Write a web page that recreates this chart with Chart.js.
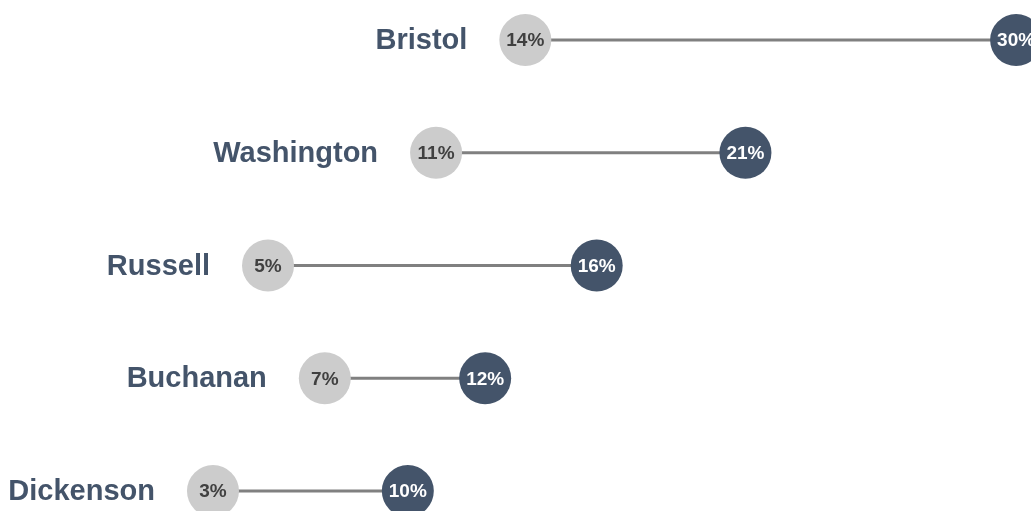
<!DOCTYPE html>
<html>
<head>
<meta charset="utf-8">
<script src="https://cdn.jsdelivr.net/npm/chart.js@4/dist/chart.umd.min.js"></script>
<style>
  html, body { margin: 0; padding: 0; background: #fff; }
  #wrap { width: 1031px; height: 511px; position: relative; }
</style>
</head>
<body>
<div id="wrap"><canvas id="dumbbell"></canvas></div>
<script>
// data
const places = ['Bristol', 'Washington', 'Russell', 'Buchanan', 'Dickenson'];
const lowVals = [13.5, 10.5, 4.85, 6.76, 3.0];
const highVals = [30.0, 20.9, 15.9, 12.15, 9.55];

const darkBlue = '#44546a';
const lightGrey = '#cccccc';
const lineGrey = '#808080';

const lowPoints = lowVals.map((v, i) => ({ x: v, y: i }));
const highPoints = highVals.map((v, i) => ({ x: v, y: i }));

// connector lines + text labels
const dumbbellPlugin = {
	id: 'dumbbell',
	beforeDatasetsDraw(chart) {
		const ctx = chart.ctx;
		const xs = chart.scales.x, ys = chart.scales.y;
		ctx.save();
		ctx.strokeStyle = lineGrey;
		ctx.lineWidth = 3;
		places.forEach((p, i) => {
			const y = ys.getPixelForValue(i);
			ctx.beginPath();
			ctx.moveTo(xs.getPixelForValue(lowVals[i]), y);
			ctx.lineTo(xs.getPixelForValue(highVals[i]), y);
			ctx.stroke();
		});
		ctx.restore();
	},
	afterDatasetsDraw(chart) {
		const ctx = chart.ctx;
		const xs = chart.scales.x, ys = chart.scales.y;
		ctx.save();
		ctx.textBaseline = 'middle';
		places.forEach((p, i) => {
			const y = ys.getPixelForValue(i);
			const lx = xs.getPixelForValue(lowVals[i]);
			const hx = xs.getPixelForValue(highVals[i]);
			// values inside dots
			ctx.font = 'bold 19px "Liberation Sans", Arial, sans-serif';
			ctx.textAlign = 'center';
			ctx.fillStyle = '#404040';
			ctx.fillText(Math.round(lowVals[i]) + '%', lx, y + 1);
			ctx.fillStyle = '#ffffff';
			ctx.fillText(Math.round(highVals[i]) + '%', hx, y + 1);
			// place name left of low dot
			ctx.font = 'bold 29px "Liberation Sans", Arial, sans-serif';
			ctx.textAlign = 'right';
			ctx.fillStyle = darkBlue;
			ctx.fillText(p, lx - 58, y + 1);
		});
		ctx.restore();
	}
};

const ctx = document.getElementById('dumbbell').getContext('2d');
new Chart(ctx, {
	type: 'scatter',
	data: {
		datasets: [{
			label: 'Low',
			data: lowPoints,
			backgroundColor: lightGrey,
			borderColor: lightGrey,
			pointRadius: 26,
			pointHoverRadius: 26,
			borderWidth: 0
		}, {
			label: 'High',
			data: highPoints,
			backgroundColor: darkBlue,
			borderColor: darkBlue,
			pointRadius: 26,
			pointHoverRadius: 26,
			borderWidth: 0
		}]
	},
	plugins: [dumbbellPlugin],
	options: {
		responsive: true,
		maintainAspectRatio: false,
		animation: false,
		layout: { padding: 0, autoPadding: false },
		plugins: {
			legend: { display: false },
			tooltip: { enabled: false }
		},
		scales: {
			x: {
				type: 'linear',
				display: false,
				min: -4.16,
				max: 30.5
			},
			y: {
				type: 'linear',
				display: false,
				reverse: true,
				min: -0.355,
				max: 4.177
			}
		}
	}
});
</script>
</body>
</html>
